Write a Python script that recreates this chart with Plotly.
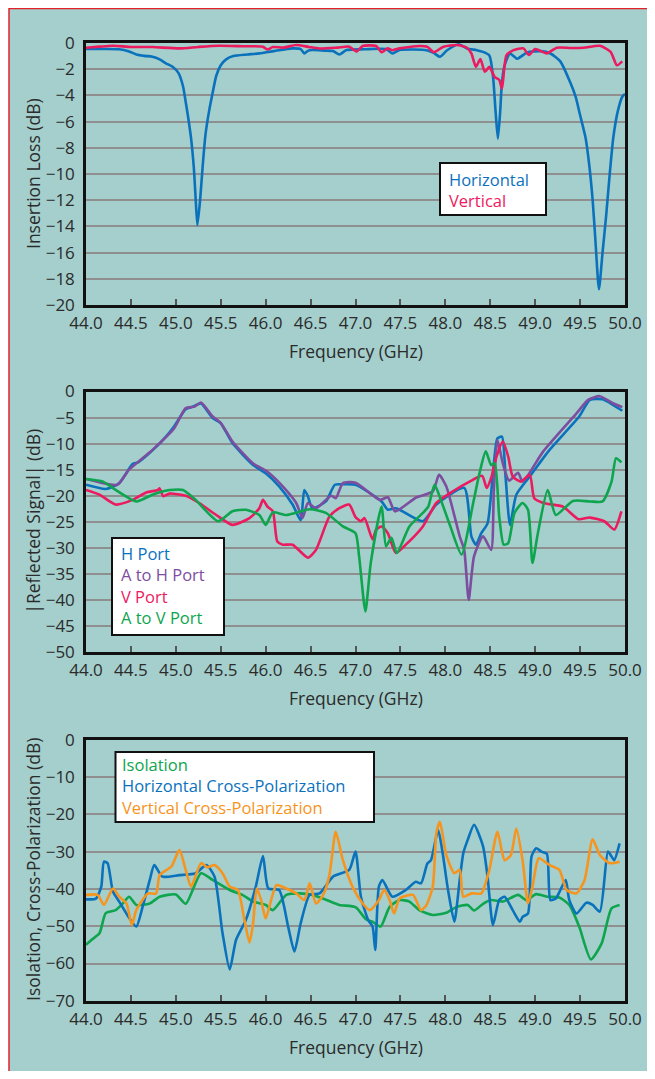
import plotly.graph_objects as go

# page has an 8px body margin: figure is sized/positioned to compensate
OX, OY = 8, 8
W, H = 655 - 2 * OX, 1079 - 2 * OY

# ---------------- data ----------------
# Panel 1: Insertion loss
il_h_f = [44.00, 44.20, 44.37, 44.48, 44.56, 44.65, 44.74, 44.82, 44.89, 44.96, 45.03, 45.08, 45.11, 45.14, 45.17,
          45.20, 45.22, 45.24, 45.27, 45.30, 45.33, 45.37, 45.41, 45.45, 45.50, 45.56, 45.64, 45.80, 45.93, 46.10,
          46.30, 46.39, 46.43, 46.47, 46.52, 46.65, 46.75, 46.82, 46.90, 47.10, 47.34, 47.41, 47.49, 47.65, 47.79,
          47.87, 47.94, 48.02, 48.15, 48.24, 48.35, 48.42, 48.49, 48.53, 48.56, 48.585, 48.61, 48.63, 48.66, 48.72,
          48.80, 48.91, 49.06, 49.17, 49.28, 49.39, 49.45, 49.50, 49.56, 49.60, 49.64, 49.67, 49.71, 49.75, 49.79,
          49.83, 49.87, 49.92, 49.97, 50.00]
il_h = [-0.46, -0.46, -0.48, -0.65, -0.87, -0.98, -1.05, -1.25, -1.55, -1.8, -2.3, -3.3, -4.5, -5.8, -7.3,
        -9.5, -11.8, -13.9, -12.0, -9.3, -7.0, -5.2, -3.8, -2.5, -1.7, -1.25, -1.0, -0.88, -0.79, -0.6,
        -0.41, -0.46, -0.8, -0.6, -0.54, -0.58, -0.62, -0.88, -0.54, -0.48, -0.46, -0.8, -0.54, -0.5, -0.55,
        -0.75, -1.05, -0.55, -0.1, -0.42, -0.55, -0.68, -0.95, -2.5, -5.3, -7.3, -5.3, -3.0, -1.7, -0.8,
        -1.2, -0.72, -0.62, -0.8, -1.4, -3.0, -4.1, -5.5, -7.2, -9.2, -12.0, -15.0, -18.8, -16.0, -13.2,
        -10.0, -7.2, -5.2, -4.1, -3.9]
il_v_f = [44.00, 44.15, 44.30, 44.50, 44.74, 45.04, 45.25, 45.48, 45.75, 45.97, 46.02, 46.08, 46.20, 46.34, 46.48,
          46.60, 46.80, 46.93, 47.01, 47.08, 47.23, 47.29, 47.36, 47.41, 47.49, 47.60, 47.72, 47.80, 47.87, 47.98,
          48.13, 48.24, 48.29, 48.34, 48.39, 48.44, 48.49, 48.55, 48.60, 48.63, 48.68, 48.76, 48.87, 48.93, 49.00,
          49.13, 49.24, 49.40, 49.54, 49.72, 49.84, 49.91, 49.97]
il_v = [-0.36, -0.28, -0.21, -0.3, -0.31, -0.41, -0.3, -0.21, -0.25, -0.28, -0.5, -0.31, -0.35, -0.15, -0.3,
        -0.42, -0.35, -0.28, -0.65, -0.23, -0.23, -0.7, -0.41, -0.55, -0.41, -0.3, -0.23, -0.3, -0.7, -0.28,
        -0.15, -0.36, -0.8, -1.82, -1.23, -2.2, -1.82, -2.6, -2.8, -3.5, -0.95, -0.54, -0.41, -0.92, -0.46,
        -0.79, -0.36, -0.38, -0.36, -0.21, -0.67, -1.7, -1.4]

# Panel 2: Reflected signal
hp_f = [44.0, 44.22, 44.37, 44.52, 44.58, 44.74, 44.89, 44.98, 45.11, 45.19, 45.28, 45.41, 45.50, 45.63, 45.86,
        46.0, 46.15, 46.30, 46.39, 46.43, 46.47, 46.52, 46.67, 46.77, 46.86, 47.0, 47.29, 47.36, 47.45, 47.75,
        47.90, 48.21, 48.29, 48.34, 48.40, 48.47, 48.53, 48.58, 48.63, 48.67, 48.72, 48.79, 48.94, 49.16, 49.49,
        49.61, 49.75, 49.87, 49.97]
hp = [-17.9, -18.7, -17.6, -13.9, -13.6, -11.3, -8.65, -6.7, -3.4, -2.9, -2.3, -5.1, -6.1, -9.9, -14.1,
      -15.7, -18.2, -21.7, -24.7, -18.9, -20.1, -22.4, -21.1, -17.9, -17.8, -17.9, -21.1, -22.7, -22.4, -24.9,
      -21.7, -18.5, -27.8, -29.4, -27.2, -25.3, -15.7, -9.0, -8.65, -16.3, -25.6, -19.8, -16.3, -11.2, -4.8,
      -1.6, -1.5, -2.6, -3.7]
ah_f = [44.0, 44.22, 44.35, 44.48, 44.74, 44.98, 45.11, 45.21, 45.28, 45.41, 45.50, 45.63, 45.86, 46.02, 46.19,
        46.34, 46.41, 46.47, 46.56, 46.73, 46.78, 46.86, 47.0, 47.27, 47.36, 47.44, 47.68, 47.86, 47.93, 48.01,
        48.16, 48.21, 48.26, 48.32, 48.42, 48.51, 48.54, 48.58, 48.64, 48.71, 48.81, 48.86, 49.09, 49.46, 49.59,
        49.72, 49.87, 49.97]
ah = [-16.8, -17.7, -17.9, -15.0, -11.2, -7.1, -3.2, -2.9, -2.1, -4.8, -6.0, -9.6, -13.8, -15.4, -18.2,
      -21.4, -24.3, -21.4, -22.4, -20.0, -20.5, -17.6, -17.5, -20.8, -20.3, -23.0, -20.3, -19.2, -16.0, -18.2,
      -27.8, -30.4, -40.0, -31.6, -27.8, -30.4, -18.9, -9.3, -13.8, -17.1, -15.6, -17.3, -11.5, -4.2, -1.6,
      -0.9, -2.3, -3.0]
vp_f = [44.0, 44.15, 44.33, 44.52, 44.67, 44.80, 44.82, 44.86, 44.93, 45.11, 45.26, 45.45, 45.63, 45.82, 45.93,
        45.97, 46.02, 46.08, 46.13, 46.19, 46.30, 46.47, 46.56, 46.71, 46.82, 46.93, 47.0, 47.06, 47.10, 47.19,
        47.23, 47.29, 47.36, 47.45, 47.56, 47.75, 47.90, 48.08, 48.27, 48.41, 48.46, 48.51, 48.57, 48.64, 48.70,
        48.75, 48.84, 48.94, 48.99, 49.09, 49.31, 49.48, 49.61, 49.77, 49.88, 49.96]
vp = [-18.9, -19.8, -21.7, -20.8, -19.4, -18.9, -18.6, -20.1, -19.6, -20.0, -21.4, -23.7, -25.6, -24.3, -22.4,
      -20.8, -22.1, -23.0, -28.8, -29.4, -29.4, -31.9, -30.4, -24.0, -22.4, -21.7, -24.1, -24.9, -24.3, -28.4,
      -26.5, -25.9, -27.2, -31.0, -29.4, -25.9, -21.4, -19.2, -17.3, -16.2, -18.5, -16.6, -12.5, -9.6, -12.5,
      -16.3, -17.3, -16.0, -20.5, -21.4, -22.1, -24.5, -24.2, -24.9, -26.5, -23.0]
av_f = [44.0, 44.19, 44.33, 44.56, 44.74, 44.85, 44.93, 45.08, 45.22, 45.47, 45.63, 45.78, 45.93, 46.0, 46.08,
        46.23, 46.49, 46.67, 46.86, 47.0, 47.04, 47.11, 47.17, 47.29, 47.34, 47.40, 47.46, 47.60, 47.75, 47.81,
        47.88, 47.95, 48.05, 48.18, 48.31, 48.38, 48.45, 48.51, 48.55, 48.60, 48.65, 48.70, 48.77, 48.86, 48.92,
        48.97, 49.03, 49.14, 49.23, 49.42, 49.61, 49.75, 49.85, 49.90, 49.96]
av = [-16.8, -17.3, -18.9, -21.1, -19.8, -19.2, -18.9, -18.9, -20.8, -24.9, -23.0, -22.7, -23.7, -25.6, -23.2,
      -23.7, -22.6, -23.3, -25.9, -27.2, -31.6, -42.2, -32.9, -22.1, -29.7, -28.1, -31.0, -25.9, -23.3, -22.1,
      -17.9, -20.8, -25.6, -31.3, -21.4, -15.7, -11.5, -14.1, -13.8, -24.0, -29.4, -29.1, -23.3, -21.4, -22.7,
      -32.9, -27.2, -18.9, -23.7, -21.0, -21.1, -21.1, -17.3, -12.8, -13.6]

# Panel 3: Isolation / cross-polarization
iso_f = [44.0, 44.06, 44.15, 44.22, 44.33, 44.41, 44.48, 44.56, 44.71, 44.82, 45.0, 45.11, 45.28, 45.41, 45.60,
         45.74, 45.86, 46.0, 46.08, 46.23, 46.38, 46.52, 46.67, 46.82, 47.0, 47.12, 47.19, 47.28, 47.38, 47.49,
         47.60, 47.71, 47.86, 48.01, 48.12, 48.25, 48.32, 48.42, 48.51, 48.64, 48.81, 48.90, 49.01, 49.14, 49.27,
         49.38, 49.49, 49.62, 49.74, 49.85, 49.94]
iso = [-55.0, -53.7, -51.9, -46.5, -45.7, -43.9, -42.1, -44.3, -43.9, -42.1, -41.5, -44.0, -35.8, -37.6, -40.3,
       -41.6, -43.4, -44.3, -45.7, -41.6, -41.2, -41.6, -42.9, -44.3, -44.9, -48.2, -48.8, -50.1, -44.8, -43.0,
       -43.4, -45.7, -47.0, -46.4, -44.9, -44.3, -45.8, -44.0, -43.0, -43.4, -41.6, -43.0, -41.4, -42.1, -42.3,
       -44.3, -50.1, -58.9, -54.6, -45.2, -44.3]
hx_f = [44.0, 44.11, 44.17, 44.20, 44.24, 44.30, 44.37, 44.46, 44.56, 44.63, 44.71, 44.76, 44.85, 45.04, 45.22,
        45.34, 45.43, 45.52, 45.60, 45.67, 45.78, 45.89, 45.97, 46.03, 46.15, 46.25, 46.32, 46.39, 46.49, 46.60,
        46.75, 46.93, 47.0, 47.06, 47.14, 47.19, 47.22, 47.26, 47.30, 47.41, 47.56, 47.67, 47.73, 47.80, 47.84,
        47.92, 47.97, 48.03, 48.10, 48.16, 48.20, 48.25, 48.32, 48.42, 48.47, 48.53, 48.60, 48.66, 48.75, 48.83,
        48.86, 48.92, 48.96, 49.01, 49.07, 49.13, 49.17, 49.23, 49.28, 49.34, 49.38, 49.46, 49.57, 49.64, 49.72,
        49.81, 49.85, 49.88, 49.94]
hx = [-42.8, -42.6, -39.4, -32.7, -33.1, -40.7, -43.4, -47.0, -50.1, -44.8, -37.6, -33.6, -36.7, -36.3, -35.8,
      -33.6, -36.7, -51.9, -61.6, -53.7, -48.3, -39.4, -31.2, -39.9, -40.3, -50.1, -56.8, -49.2, -41.6, -41.2,
      -36.7, -34.9, -30.0, -42.1, -48.3, -50.1, -56.4, -39.4, -37.6, -42.1, -40.3, -38.1, -38.5, -33.2, -32.3,
      -24.2, -30.4, -40.3, -48.8, -37.6, -30.4, -26.8, -22.8, -28.6, -36.7, -49.7, -43.0, -42.1, -45.7, -48.8,
      -47.5, -46.6, -31.3, -29.1, -30.0, -30.6, -43.0, -42.6, -40.3, -37.6, -43.0, -46.6, -43.7, -44.3, -46.1,
      -30.0, -31.3, -32.3, -27.8]
vx_f = [44.0, 44.13, 44.20, 44.30, 44.37, 44.45, 44.51, 44.56, 44.69, 44.78, 44.82, 44.95, 45.04, 45.11, 45.17,
        45.28, 45.35, 45.43, 45.52, 45.60, 45.69, 45.76, 45.82, 45.86, 45.90, 45.95, 46.0, 46.12, 46.23, 46.34,
        46.43, 46.49, 46.56, 46.64, 46.71, 46.78, 46.86, 46.97, 47.08, 47.16, 47.25, 47.32, 47.38, 47.43, 47.49,
        47.64, 47.73, 47.79, 47.86, 47.90, 47.94, 48.01, 48.10, 48.16, 48.20, 48.29, 48.40, 48.49, 48.58, 48.66,
        48.73, 48.79, 48.86, 48.92, 48.97, 49.04, 49.16, 49.27, 49.35, 49.46, 49.55, 49.64, 49.72, 49.83, 49.94]
vx = [-41.6, -41.6, -44.3, -39.9, -42.1, -43.9, -49.7, -45.7, -41.2, -41.2, -36.3, -34.0, -29.6, -34.9, -39.4,
      -33.1, -34.2, -33.6, -35.8, -39.4, -40.3, -47.9, -54.4, -49.2, -39.9, -43.0, -47.9, -39.0, -39.9, -41.2,
      -43.0, -38.5, -43.9, -41.6, -36.3, -24.7, -32.3, -39.6, -43.9, -45.7, -43.4, -40.3, -43.0, -46.6, -42.6,
      -41.6, -45.7, -44.3, -39.4, -25.1, -22.0, -30.9, -35.8, -34.9, -42.1, -41.2, -41.2, -34.9, -24.7, -32.3,
      -30.9, -23.8, -32.3, -43.9, -39.4, -31.8, -33.6, -34.9, -40.3, -41.2, -37.6, -26.7, -30.9, -33.1, -32.7]

x_ticks = [44.0, 44.5, 45.0, 45.5, 46.0, 46.5, 47.0, 47.5, 48.0, 48.5, 49.0, 49.5, 50.0]

# ---------------- style ----------------
BLUE = "#0a72bd"
RED = "#ec1a5e"
PURPLE = "#7d4e9f"
GREEN = "#0ea54e"
ORANGE = "#f7941d"
TEAL = "#a4cfcc"
FONT = "'Open Sans', Lato, sans-serif"
TXT = "#2b2b2b"
FS_TICK = 17
FS_TXT = 17.5
FS_LEG = 16.5


def px(x):
    return (x - OX) / W


def py(y):
    return 1 - (y - OY) / H


fig = go.Figure()


def add(xs, ys, color, name, axis):
    fig.add_trace(go.Scatter(x=xs, y=ys, mode="lines", name=name, showlegend=False,
                             line=dict(color=color, width=2.6, shape="spline", smoothing=0.6),
                             xaxis="x" + axis, yaxis="y" + axis))


add(il_h_f, il_h, BLUE, "Horizontal", "")
add(il_v_f, il_v, RED, "Vertical", "")
add(hp_f, hp, BLUE, "H Port", "2")
add(ah_f, ah, PURPLE, "A to H Port", "2")
add(vp_f, vp, RED, "V Port", "2")
add(av_f, av, GREEN, "A to V Port", "2")
add(iso_f, iso, GREEN, "Isolation", "3")
add(hx_f, hx, BLUE, "Horizontal Cross-Polarization", "3")
add(vx_f, vx, ORANGE, "Vertical Cross-Polarization", "3")

xd = [px(86), px(625)]
panels = [
    ("", (43, 305), [-20, 0], 2),
    ("2", (391.5, 652), [-50, 0], 5),
    ("3", (739.7, 1000.8), [-70, 0], 10),
]
lay = {}
for ax, (top, bot), rng, dt in panels:
    xa = dict(domain=xd, range=[44, 50], tickvals=x_ticks, ticktext=[f"{v:.1f}" for v in x_ticks],
              ticks="inside", ticklen=6, tickwidth=1.5, tickcolor="#555",
              showline=True, linecolor="#111", linewidth=2.5, mirror=True, automargin=False,
              showgrid=False, zeroline=False, anchor="y" + ax, ticklabelstandoff=1,
              tickfont=dict(family=FONT, size=FS_TICK, color=TXT))
    ya = dict(domain=[py(bot), py(top)], range=rng, dtick=dt, tick0=0, automargin=False,
              showline=True, linecolor="#111", linewidth=2.5, mirror=True,
              showgrid=True, gridcolor="#8f8f8f", gridwidth=1.8, zeroline=False,
              ticks="", anchor="x" + ax, ticklabelstandoff=5,
              tickfont=dict(family=FONT, size=FS_TICK, color=TXT))
    lay["xaxis" + ax] = xa
    lay["yaxis" + ax] = ya

fig.update_layout(template="none", **lay)

shapes = [
    dict(type="rect", xref="paper", yref="paper", x0=px(9), x1=px(653), y0=py(1100), y1=py(8.6),
         fillcolor=TEAL, line=dict(color="#e2222b", width=1.5), layer="below"),
    # legend boxes
    dict(type="rect", xref="paper", yref="paper", x0=px(440), x1=px(546), y0=py(215), y1=py(163),
         fillcolor="white", line=dict(color="#111", width=2), layer="above"),
    dict(type="rect", xref="paper", yref="paper", x0=px(112), x1=px(224), y0=py(635), y1=py(538),
         fillcolor="white", line=dict(color="#111", width=2), layer="above"),
    dict(type="rect", xref="paper", yref="paper", x0=px(115.5), x1=px(374), y0=py(822), y1=py(752),
         fillcolor="white", line=dict(color="#111", width=2), layer="above"),
]

ann = []


def legend_text(items, x, yc):
    text = "<br>".join(f"<span style='color:{c}'>{t}</span>" for t, c in items)
    ann.append(dict(text=text, x=px(x), y=py(yc), xref="paper", yref="paper", showarrow=False,
                    xanchor="left", yanchor="middle", align="left", borderpad=0,
                    font=dict(family=FONT, size=FS_LEG, color=TXT)))


legend_text([("Horizontal", BLUE), ("Vertical", RED)], 448, 190)
legend_text([("H Port", BLUE), ("A to H Port", PURPLE), ("V Port", RED), ("A to V Port", GREEN)], 120, 585)
legend_text([("Isolation", GREEN), ("Horizontal Cross-Polarization", BLUE),
             ("Vertical Cross-Polarization", ORANGE)], 121, 786)

for y in [351, 698, 1047]:
    ann.append(dict(text="Frequency (GHz)", x=px(356), y=py(y), xref="paper", yref="paper",
                    showarrow=False, xanchor="center", yanchor="middle",
                    font=dict(family=FONT, size=FS_TXT, color=TXT)))

for text, y in [("Insertion Loss (dB)", 174), ("|Reflected Signal| (dB)", 521.7),
                ("Isolation, Cross-Polarization (dB)", 870)]:
    ann.append(dict(text=text, x=px(33), y=py(y), xref="paper", yref="paper", showarrow=False,
                    textangle=-90, xanchor="center", yanchor="middle",
                    font=dict(family=FONT, size=FS_TXT, color=TXT)))

fig.update_layout(width=W, height=H, margin=dict(l=0, r=0, t=0, b=0, pad=0, autoexpand=False),
                  paper_bgcolor="white", plot_bgcolor="white",
                  shapes=shapes, annotations=ann, showlegend=False)

fig.write_html("out.html")
